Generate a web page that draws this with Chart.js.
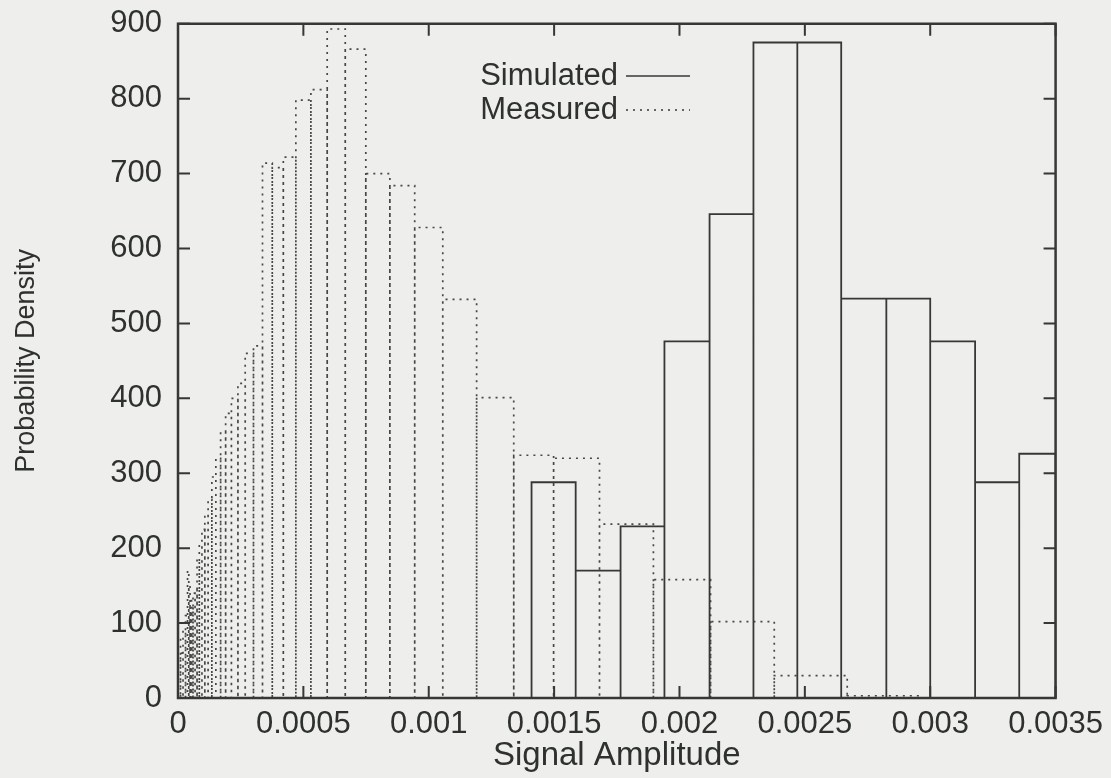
<!DOCTYPE html>
<html>
<head>
<meta charset="utf-8">
<script src="https://cdn.jsdelivr.net/npm/chart.js@4.4.1/dist/chart.umd.min.js"></script>
<style>
  html, body { margin: 0; padding: 0; background: #eeeeec; }
  #wrap { width: 1111px; height: 778px; }
</style>
</head>
<body>
<div id="wrap"><canvas id="c" width="1111" height="778"></canvas></div>
<script>
// simulated histogram: bin edges and densities
const simEdges = [0.00141, 0.001586, 0.001765, 0.00194, 0.00212, 0.002295, 0.00247,
  0.002645, 0.002825, 0.003, 0.003179, 0.003355, 0.0035];
const simValues = [288, 170, 229, 476, 646, 875, 875, 533, 533, 476, 288, 326];

// measured histogram (log spaced bins)
const measEdges = [0, 0.00001, 0.00002, 0.00003, 0.000038, 0.000043, 0.000048, 0.000054,
  0.00006, 0.000068, 0.000076, 0.000085, 0.0000955, 0.000107, 0.00012, 0.000135, 0.000151,
  0.00017, 0.00019, 0.000213, 0.000239, 0.000268, 0.000301, 0.000337, 0.000376, 0.00042,
  0.00047, 0.00053, 0.000595, 0.000667, 0.000749, 0.000845, 0.000944, 0.001056, 0.001191,
  0.001339, 0.001498, 0.001681, 0.001896, 0.002124, 0.002378, 0.002669, 0.00296];
const measValues = [80, 60, 90, 110, 170, 150, 130, 120, 140, 145, 185, 205, 225, 245, 265,
  295, 320, 355, 380, 400, 420, 460, 470, 714, 708, 722, 798, 812, 893, 866, 700, 684, 628,
  532, 401, 324, 320, 232, 158, 102, 30, 3];

const xTicks = [0, 0.0005, 0.001, 0.0015, 0.002, 0.0025, 0.003, 0.0035];
const yTicks = [0, 100, 200, 300, 400, 500, 600, 700, 800, 900];

const ink = "#363835";
const textInk = "#2e322e";
const font = "'Liberation Sans', Arial, sans-serif";

// gnuplot style boxes: every bin goes up, across and back down
function boxPath(edges, values) {
  const pts = [];
  for (let i = 0; i < values.length; i++) {
    pts.push({ x: edges[i], y: 0 });
    pts.push({ x: edges[i], y: values[i] });
    pts.push({ x: edges[i + 1], y: values[i] });
    pts.push({ x: edges[i + 1], y: 0 });
  }
  return pts;
}

const framePlugin = {
  id: "frame",
  beforeDraw(chart) {
    const ctx = chart.ctx;
    ctx.save();
    ctx.fillStyle = "#eeeeec";
    ctx.fillRect(0, 0, chart.width, chart.height);
    ctx.restore();
  },
  afterDraw(chart) {
    const { ctx, chartArea: a, scales } = chart;
    const t = 12;
    ctx.save();
    ctx.strokeStyle = ink;
    ctx.lineWidth = 2;
    ctx.beginPath();
    xTicks.forEach(v => {
      const px = scales.x.getPixelForValue(v);
      ctx.moveTo(px, a.bottom); ctx.lineTo(px, a.bottom - t);
      ctx.moveTo(px, a.top); ctx.lineTo(px, a.top + t);
    });
    yTicks.forEach(v => {
      const py = scales.y.getPixelForValue(v);
      ctx.moveTo(a.left, py); ctx.lineTo(a.left + t, py);
      ctx.moveTo(a.right, py); ctx.lineTo(a.right - t, py);
    });
    ctx.stroke();
    ctx.lineWidth = 2.5;
    ctx.strokeRect(a.left, a.top, a.right - a.left, a.bottom - a.top);

    // legend, gnuplot style: text right aligned, sample to its right
    const items = [
      { label: "Simulated", y: 76, dash: [] },
      { label: "Measured", y: 110, dash: [2, 5] }
    ];
    ctx.font = "31px " + font;
    ctx.textAlign = "right";
    ctx.textBaseline = "middle";
    items.forEach(it => {
      ctx.fillStyle = textInk;
      ctx.fillText(it.label, 618, it.y);
      ctx.setLineDash(it.dash);
      ctx.lineWidth = 1.6;
      ctx.beginPath();
      ctx.moveTo(626, it.y);
      ctx.lineTo(690, it.y);
      ctx.stroke();
    });
    ctx.restore();
  }
};

new Chart(document.getElementById("c"), {
  type: "line",
  data: {
    datasets: [
      {
        label: "Simulated",
        data: boxPath(simEdges, simValues),
        borderColor: ink,
        borderWidth: 1.8,
        pointRadius: 0,
        tension: 0,
        fill: false,
        clip: 0
      },
      {
        label: "Measured",
        data: boxPath(measEdges, measValues),
        borderColor: "#464845",
        borderWidth: 1.7,
        borderDash: [2, 5],
        pointRadius: 0,
        tension: 0,
        fill: false,
        clip: 0
      }
    ]
  },
  options: {
    responsive: false,
    animation: false,
    layout: { padding: { top: 20, right: 52, left: 0, bottom: 0 } },
    plugins: {
      legend: { display: false },
      tooltip: { enabled: false }
    },
    scales: {
      x: {
        type: "linear",
        min: 0,
        max: 0.0035,
        afterFit: s => { s.height = 80; },
        afterBuildTicks: s => { s.ticks = xTicks.map(v => ({ value: v })); },
        grid: { display: false, drawTicks: false },
        border: { display: false },
        ticks: {
          padding: 8,
          color: textInk,
          font: { family: font, size: 31 },
          maxRotation: 0,
          callback: v => Number(v.toFixed(4)).toString()
        },
        title: {
          display: true,
          text: "Signal Amplitude",
          color: textInk,
          font: { family: font, size: 33 },
          padding: { top: 0, bottom: 2 }
        }
      },
      y: {
        min: 0,
        max: 900,
        afterFit: s => { s.width = 178; },
        afterBuildTicks: s => { s.ticks = yTicks.map(v => ({ value: v })); },
        grid: { display: false, drawTicks: false },
        border: { display: false },
        ticks: {
          padding: 16,
          color: textInk,
          font: { family: font, size: 31, lineHeight: 0.5 }
        },
        title: {
          display: true,
          text: "Probability Density",
          color: textInk,
          font: { family: font, size: 27 },
          padding: { top: 10, bottom: 0 }
        }
      }
    }
  },
  plugins: [framePlugin]
});
</script>
</body>
</html>
